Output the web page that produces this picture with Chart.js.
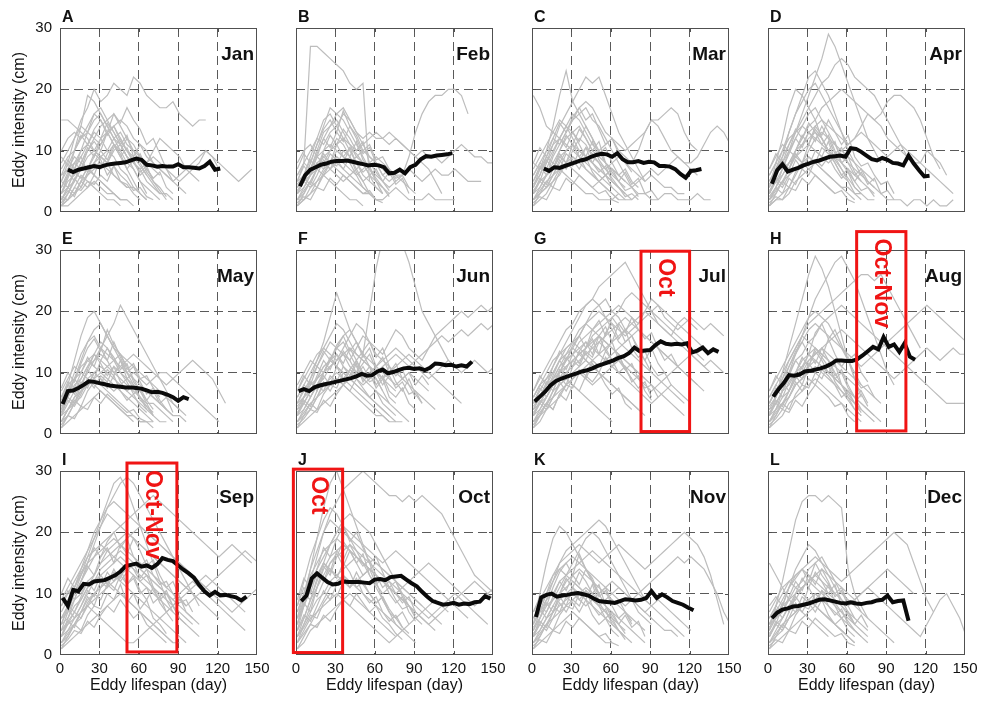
<!DOCTYPE html>
<html>
<head>
<meta charset="utf-8">
<script src="https://cdn.jsdelivr.net/npm/chart.js@4"></script>
<style>
body { margin: 0; background: #fff; overflow: hidden; }
#wrap { position: relative; width: 982px; height: 704px; }
canvas { position: absolute; }
</style>
</head>
<body>
<div id="wrap"></div>
<script>
const months = ["Jan", "Feb", "Mar", "Apr", "May", "Jun", "Jul", "Aug", "Sep", "Oct", "Nov", "Dec"];
const letters = ["A", "B", "C", "D", "E", "F", "G", "H", "I", "J", "K", "L"];
const xTicks = [0, 30, 60, 90, 120, 150];
const yTicks = [0, 10, 20, 30];

// monthly mean intensity, one value every 4 days from meanStart
const meanStart = [6, 3, 9, 3, 2, 2, 2, 4, 2, 4, 3, 3];
const janMean = [6.9, 6.5, 6.9, 7.1, 7.3, 7.5, 7.3, 7.6, 7.8, 7.9, 8.0, 8.1, 8.4, 8.7, 8.5, 7.7, 7.6, 7.4, 7.5, 7.4, 7.4, 7.8, 7.3, 7.3, 7.2, 7.1, 7.5, 8.2, 6.9, 7.1];
const febMean = [4.2, 6.0, 6.9, 7.3, 7.7, 7.9, 8.2, 8.3, 8.3, 8.4, 8.2, 8.0, 7.8, 7.6, 7.7, 7.6, 7.3, 6.3, 6.4, 6.9, 6.3, 7.3, 7.7, 8.6, 9.1, 9.0, 9.2, 9.3, 9.4, 9.6];
const marMean = [7.1, 6.7, 7.3, 7.2, 7.5, 7.8, 8.1, 8.4, 8.6, 9.0, 9.3, 9.5, 9.4, 9.0, 9.6, 8.6, 8.1, 8.1, 8.3, 8.0, 8.2, 8.1, 7.5, 7.5, 7.4, 7.0, 6.2, 5.6, 6.7, 6.8, 7.0];
const aprMean = [4.6, 6.8, 7.8, 6.6, 6.9, 7.2, 7.6, 7.9, 8.2, 8.4, 8.7, 9.0, 9.1, 9.2, 9.0, 10.4, 10.3, 9.8, 9.2, 8.6, 8.4, 8.8, 8.5, 8.0, 7.9, 7.6, 9.2, 7.9, 6.8, 5.8, 5.9];
const mayMean = [4.9, 7.0, 7.1, 7.5, 8.0, 8.6, 8.5, 8.3, 8.1, 7.9, 7.8, 7.7, 7.6, 7.6, 7.5, 7.4, 7.1, 6.8, 6.9, 6.7, 6.4, 6.0, 5.4, 6.0, 5.7];
const junMean = [7.0, 7.3, 7.0, 7.6, 7.9, 8.1, 8.3, 8.5, 8.7, 8.9, 9.1, 9.4, 9.8, 9.5, 9.6, 10.2, 10.5, 9.9, 10.1, 10.4, 10.7, 10.8, 10.6, 10.7, 10.4, 10.8, 11.5, 11.4, 11.2, 11.3, 11.0, 11.2, 11.0, 11.8];
const julMean = [5.3, 6.1, 6.9, 7.9, 8.6, 9.0, 9.3, 9.6, 9.9, 10.2, 10.4, 10.7, 11.1, 11.4, 11.7, 12.0, 12.4, 12.7, 13.2, 14.1, 13.5, 13.6, 13.7, 14.5, 15.1, 14.7, 14.6, 14.7, 14.6, 14.8, 13.3, 13.6, 14.1, 13.2, 13.8, 13.4];
const augMean = [6.1, 7.3, 8.3, 9.6, 9.5, 9.7, 10.2, 10.3, 10.5, 10.7, 11.0, 11.4, 12.0, 12.0, 11.9, 11.9, 12.2, 12.8, 13.5, 14.2, 13.8, 15.8, 14.2, 14.6, 13.4, 14.8, 12.6, 12.1];
const sepMean = [9.3, 8.0, 10.6, 10.4, 11.6, 11.5, 12.0, 12.1, 12.2, 12.6, 13.0, 13.6, 14.5, 14.7, 14.9, 14.4, 14.6, 14.2, 14.8, 15.8, 15.5, 15.3, 14.6, 13.9, 13.3, 12.6, 11.4, 10.4, 9.7, 10.3, 9.7, 9.8, 9.6, 9.4, 8.9, 9.5];
const octMean = [8.8, 9.7, 12.5, 13.3, 12.6, 11.9, 11.5, 11.6, 12.0, 11.9, 11.9, 11.9, 11.8, 11.7, 12.3, 12.4, 12.2, 12.7, 12.8, 12.9, 12.3, 11.7, 11.2, 10.3, 9.5, 8.8, 8.5, 8.2, 8.3, 8.5, 8.2, 8.4, 8.3, 8.6, 8.7, 9.6, 9.2];
const novMean = [6.2, 9.4, 9.8, 10.0, 9.5, 9.7, 9.8, 10.0, 10.1, 9.9, 9.7, 9.2, 8.8, 8.7, 8.6, 8.5, 8.8, 9.1, 9.0, 8.9, 9.0, 9.3, 10.4, 9.3, 9.9, 9.4, 8.8, 8.5, 8.2, 7.7, 7.3];
const decMean = [6.0, 6.9, 7.4, 7.6, 7.9, 8.0, 8.2, 8.4, 8.7, 9.0, 9.1, 8.9, 8.7, 8.5, 8.4, 8.6, 8.4, 8.3, 8.5, 8.6, 8.9, 9.0, 9.7, 8.6, 8.8, 8.9, 5.6];

// single eddies, one value every 5 days from day 1
const janLines = [
  [15, 15, 14, 13, 12, 10, 9, 8, 6, 5, 4],
  [3, 6, 10, 14, 19, 18, 16, 14, 12, 10, 8, 7, 5, 3],
  [2, 4, 7, 10, 13, 16, 17, 15, 13, 11, 9, 7, 5, 4, 3, 2],
  [5, 8, 12, 15, 17, 20, 18, 19, 21, 20, 19, 22, 21, 19, 18, 17, 17, 18, 16, 15, 14, 15, 15],
  [1, 3, 5, 8, 10, 12, 14, 15, 16, 14, 12, 10, 8, 6],
  [4, 6, 8, 9, 11, 10, 12, 13, 11, 9, 7, 5, 3, 2],
  [2, 2, 3, 5, 6, 8, 9, 10, 12, 11, 9, 8, 7, 5, 4, 3, 3, 2],
  [6, 7, 9, 8, 7, 6, 5, 4, 3, 2, 2],
  [3, 5, 6, 8, 7, 9, 11, 13, 14, 12, 10, 9, 11, 10, 8, 7, 6, 5, 4, 3],
  [1, 2, 4, 6, 5, 4, 3, 2, 2, 1],
  [8, 10, 12, 14, 13, 15, 16, 14, 12, 13, 11, 10, 9, 8, 10, 12, 11, 10, 9, 7, 6, 5],
  [2, 4, 5, 7, 9, 10, 9, 8, 10, 11, 9, 8, 7, 8, 9, 8, 7, 6, 5, 6, 7, 8, 10, 9, 8, 7, 6, 5, 6, 7],
  [5, 7, 8, 10, 11, 13, 12, 10, 9, 7, 6, 4, 3],
  [1, 2, 3, 4, 6, 7, 8, 7, 6, 5, 4, 4, 3, 2],
  [7, 9, 10, 12, 13, 12, 11, 13, 14, 15, 14, 12, 11, 9, 8, 7, 6, 5, 6, 7, 8, 9, 10, 9, 7],
  [3, 4, 3, 5, 4, 6, 5, 4, 3, 2],
  [10, 12, 13, 12, 14, 16, 15, 13, 11, 10, 12, 11, 9, 8, 7, 6],
  [1, 1, 2, 3, 4, 5, 4, 3, 3, 2, 2, 1],
  [4, 6.5, 5, 8, 10.5, 9, 12, 14.5, 13, 11, 12.5, 9, 7.5, 6, 4.5, 3],
  [2, 3.5, 2.5, 5, 7.5, 6, 9, 8, 10.5, 12, 10, 8.5, 9, 6.5, 5, 3.5, 2],
  [9, 7.5, 10, 12.5, 11, 13.5, 15, 12.5, 14, 11.5, 10, 8, 9.5, 7, 5.5],
  [1.5, 3, 5.5, 4, 6.5, 8, 7, 9.5, 11, 9, 10.5, 8, 6.5, 7.5, 5, 4, 2.5],
  [5, 4, 6.5, 5.5, 7, 9.5, 8.5, 6, 7.5, 5, 4.5, 3, 2],
  [3, 5.5, 8, 7, 10, 11.5, 10, 13, 16, 14.5, 17, 15, 13.5, 11, 12, 9.5, 7, 5],
  [6, 8.5, 7, 9, 6.5, 8, 10, 8.5, 11, 9.5, 7, 8.5, 6, 7, 5.5, 6.5, 4, 3],
  [2.5, 2, 4, 3.5, 5, 4.5, 6, 5, 7.5, 6, 5, 3.5, 4, 2.5, 2]
];
const febLines = [
  [5, 8, 27, 27, 26, 25, 24, 23, 21, 20, 21, 5],
  [3, 5, 8, 11, 14, 17, 16, 15, 13, 11, 9, 7, 5, 3],
  [2, 4, 6, 9, 12, 14, 15, 13, 11, 9, 8, 6, 5, 4],
  [1, 3, 5, 7, 9, 10, 12, 11, 9, 7, 5, 3, 2],
  [6, 8, 10, 12, 11, 13, 14, 16, 15, 13, 12, 13, 12, 12, 13, 12, 11, 10, 9, 8, 7, 5, 3],
  [2, 2, 3, 4, 6, 7, 8, 7, 6, 5, 4, 3, 2, 2],
  [4, 6, 7, 9, 10, 11, 10, 9, 8, 9, 10, 9, 8, 6, 5, 6, 5, 4, 3],
  [1, 2, 4, 5, 6, 5, 4, 3, 2, 2, 1],
  [3, 4, 6, 8, 9, 8, 7, 6, 5, 4, 3, 3, 2, 2, 3, 4, 3, 2, 2, 2, 3, 2, 2, 2, 2],
  [4, 5, 6, 7, 6, 8, 9, 8, 7, 6, 7, 8, 9, 8, 7, 6, 6, 9, 13, 16, 18, 19, 19, 20, 20, 19, 16],
  [8, 10, 11, 9, 8, 10, 11, 12, 11, 10, 11, 12, 13, 12, 11, 12, 11, 10, 9, 10, 9, 9, 8, 9, 10, 11, 10, 9, 9, 8, 8],
  [2, 3, 5, 7, 8, 7, 6, 5, 6, 7, 8, 7, 6, 5, 4, 5, 6, 7, 6, 5, 6, 7, 6, 6, 7, 6, 5, 5, 5],
  [5, 6, 9, 12, 15, 16, 14, 12, 10, 8, 6, 5, 4, 3],
  [1, 2, 3, 5, 7, 8, 10, 9, 8, 6, 4, 3, 2],
  [3, 5, 7, 10, 13, 14, 16, 17, 15, 13, 11, 9, 8, 7, 6],
  [3, 5.5, 4.5, 7, 9.5, 8, 11, 13.5, 12, 10, 11.5, 8, 6.5, 5, 3.5],
  [6, 8, 7, 9.5, 12, 10.5, 13, 11.5, 14, 12, 9.5, 10.5, 8, 6, 7, 5],
  [2, 3.5, 5, 4, 6.5, 8, 7.5, 10, 9, 11.5, 8.5, 7, 5.5, 4, 3],
  [4.5, 6, 8.5, 7, 10, 12.5, 11, 9, 10.5, 8, 6.5, 7.5, 5, 4, 2.5],
  [1.5, 2.5, 2, 4, 3.5, 5.5, 4.5, 6, 5, 4, 3, 3.5, 2, 1.5],
  [7, 9.5, 8, 11, 13.5, 15, 13, 16.5, 14, 12.5, 10, 11, 8.5, 9, 7, 5.5, 6, 4],
  [3.5, 5, 4, 6, 8.5, 7, 9, 8, 10.5, 9.5, 8, 6, 7, 5, 6.5, 4.5, 5.5, 3],
  [5, 7.5, 6, 8, 7, 9.5, 8.5, 7, 9, 6.5, 5, 6, 4, 3]
];
const marLines = [
  [19, 17, 14, 13, 12, 11, 10, 9, 8, 7, 6, 5, 4],
  [4, 7, 10, 14, 19, 23, 18, 16, 14, 12, 10, 8, 6, 5, 4],
  [3, 5, 8, 11, 14, 16, 18, 20, 22, 21, 22, 19, 16, 13, 11, 9, 7, 5],
  [2, 4, 6, 9, 11, 13, 15, 16, 17, 15, 14, 12, 10, 8, 6, 4, 3],
  [6, 8, 10, 12, 11, 13, 15, 17, 18, 17, 15, 13, 12, 11, 10, 11, 12, 13, 15, 14, 12, 10, 9, 8, 7, 6],
  [1, 2, 3, 5, 6, 8, 9, 8, 7, 6, 5, 4, 3, 2],
  [5, 7, 8, 10, 12, 14, 13, 11, 9, 8, 7, 6, 5, 4, 3, 2],
  [2, 3, 5, 6, 8, 10, 11, 10, 9, 8, 10, 11, 12, 10, 9, 8, 10, 13, 15, 15, 16, 17, 16, 13, 11, 10],
  [3, 4, 6, 7, 9, 8, 7, 6, 5, 4, 5, 6, 7, 6, 5, 4, 5, 6, 7, 6, 7, 8, 9, 8, 8, 9, 11, 13, 14, 13, 11],
  [7, 9, 11, 13, 15, 14, 12, 10, 9, 8, 7, 6, 5, 4, 3],
  [1, 3, 4, 5, 7, 6, 5, 4, 3, 3, 2, 2, 2, 3, 2, 2, 3, 3, 2, 2, 3, 3, 2, 2, 2, 3, 2, 2],
  [4, 6, 9, 11, 12, 14, 16, 15, 13, 11, 10, 8, 7, 6, 5],
  [2, 3, 4, 6, 7, 8, 10, 12, 11, 9, 8, 7, 8, 9, 8, 7, 6, 5, 6, 5, 4, 4, 3, 3],
  [8, 7, 9, 8, 10, 12, 13, 14, 12, 10, 9, 8, 7, 6, 5],
  [3, 5, 6, 7, 9, 10, 11, 9, 7, 6, 5, 4, 3, 2, 2],
  [3, 5.5, 4.5, 7, 9.5, 8, 11, 13.5, 12, 10, 11.5, 8, 6.5, 5, 3.5, 4, 2.5],
  [6, 8, 7, 9.5, 12, 10.5, 13, 11.5, 14, 12, 9.5, 10.5, 8, 6, 7, 5, 4],
  [2, 3.5, 5, 4, 6.5, 8, 7.5, 10, 9, 11.5, 8.5, 7, 5.5, 4, 3],
  [4.5, 6, 8.5, 7, 10, 12.5, 11, 9, 10.5, 8, 6.5, 7.5, 5, 4, 2.5, 3, 2],
  [1.5, 2.5, 2, 4, 3.5, 5.5, 4.5, 6, 5, 4, 3, 3.5, 2, 1.5],
  [8, 10.5, 9, 12, 14.5, 13, 15.5, 17, 15, 16, 13.5, 11, 12, 9.5, 8, 6.5],
  [3.5, 5, 4, 6, 8.5, 7, 9, 8, 10.5, 9.5, 8, 6, 7, 5, 6.5, 4.5, 5.5, 3, 3.5, 2],
  [5, 7.5, 6, 8, 7, 9.5, 8.5, 7, 9, 6.5, 5, 6, 4, 3]
];
const aprLines = [
  [4, 8, 12, 17, 20, 19, 17, 15, 12, 10, 8, 6, 5],
  [3, 6, 9, 13, 16, 19, 22, 23, 21, 19, 16, 13, 10, 8, 6],
  [2, 4, 7, 10, 13, 16, 19, 22, 25, 29, 27, 24, 21, 18, 15, 12, 10, 8],
  [5, 7, 9, 11, 13, 15, 17, 19, 21, 22, 24, 25, 24, 22, 21, 20, 19, 17, 15, 13, 11, 9, 8],
  [3, 5, 7, 8, 10, 12, 14, 15, 17, 18, 19, 20, 19, 18, 17, 16, 15, 16, 18, 19, 19, 18, 17, 15, 12, 9, 7],
  [1, 3, 5, 7, 9, 11, 12, 13, 12, 10, 9, 7, 5, 3, 2],
  [2, 4, 6, 8, 9, 10, 11, 10, 9, 8, 9, 10, 11, 12, 13, 12, 11, 10, 9, 10, 11, 10, 9, 8, 7, 6, 5, 4, 3],
  [6, 8, 10, 12, 13, 14, 13, 12, 11, 10, 9, 8, 7, 6, 5, 4, 3],
  [1, 2, 3, 4, 6, 8, 10, 12, 13, 12, 11, 9, 8, 7, 6, 5, 4, 3, 2, 2, 2, 1, 2, 2, 1, 2, 1, 1, 2],
  [4, 6, 8, 10, 12, 14, 16, 17, 15, 14, 13, 12, 11, 12, 14, 16, 15, 14, 12, 11, 10, 9, 8, 8, 10, 9, 8, 6],
  [2, 3, 5, 6, 7, 8, 9, 8, 7, 6, 5, 4, 3, 2],
  [7, 9, 11, 10, 9, 8, 7, 6, 5, 4, 3],
  [3, 5, 6, 8, 10, 11, 13, 14, 15, 13, 11, 10, 9, 8, 7, 6, 5],
  [1, 2, 2, 3, 5, 6, 7, 8, 7, 6, 5, 4, 4, 3, 3, 2, 2],
  [5, 7, 10, 13, 16, 18, 20, 21, 19, 17, 15, 13, 11],
  [3, 5.5, 4.5, 7, 9.5, 8, 11, 13.5, 12, 10, 11.5, 8, 6.5, 5, 3.5, 4, 2.5],
  [6, 8, 7, 9.5, 12, 10.5, 13, 11.5, 14, 12, 9.5, 10.5, 8, 6, 7, 5, 4],
  [2, 3.5, 5, 4, 6.5, 8, 7.5, 10, 9, 11.5, 8.5, 7, 5.5, 4, 3],
  [1.5, 2.5, 2, 4, 3.5, 5.5, 4.5, 6, 5, 4, 3, 3.5, 2, 1.5],
  [4.5, 6, 8.5, 7, 10, 12.5, 11, 14, 12.5, 15, 13, 11, 12.5, 9, 7.5, 8, 6, 4.5, 5, 3],
  [3.5, 5, 4, 6, 8.5, 7, 9, 8, 10.5, 9.5, 8, 6, 7, 5, 6.5, 4.5, 5.5, 3, 3.5, 2],
  [7, 9.5, 8, 11, 13.5, 12, 14.5, 13, 11, 12.5, 10, 8, 9, 6.5, 5],
  [2.5, 4, 3, 5.5, 4.5, 7, 6, 8.5, 7.5, 9, 7, 5.5, 6.5, 4, 3]
];
const mayLines = [
  [5, 8, 12, 16, 19, 20, 18, 16, 14, 12, 10, 8, 6, 4],
  [3, 6, 9, 12, 15, 17, 18, 16, 14, 13, 11, 9, 7, 5, 3],
  [2, 4, 6, 8, 10, 12, 14, 16, 18, 21, 19, 17, 15, 13, 11, 9, 7, 5, 4],
  [4, 7, 10, 13, 15, 16, 14, 13, 12, 11, 10, 9, 8, 7, 6, 5, 4, 3],
  [1, 3, 5, 7, 9, 10, 11, 10, 9, 8, 7, 6, 5, 4, 3, 2, 2],
  [6, 8, 9, 11, 12, 13, 12, 11, 10, 11, 12, 13, 12, 11, 10, 9, 8, 9, 10, 11, 12, 11, 10, 9, 7, 5],
  [2, 3, 5, 6, 8, 9, 8, 7, 6, 5, 4, 3, 2, 2, 1],
  [3, 5, 7, 9, 11, 12, 13, 12, 10, 9, 8, 7, 6, 5, 5, 4, 3, 2],
  [7, 9, 11, 10, 9, 8, 7, 6, 5, 4, 3, 2],
  [1, 2, 3, 4, 5, 6, 7, 6, 5, 4, 3, 3, 2, 2, 2],
  [4, 6, 8, 9, 11, 13, 15, 14, 12, 10, 9, 8, 7, 7, 6, 5, 4, 3, 3, 2],
  [2, 4, 5, 7, 8, 10, 9, 8, 7, 8, 9, 10, 9, 8, 9, 10, 10, 9, 8, 7, 6, 5, 4, 3, 2],
  [5, 7, 9, 10, 12, 11, 10, 9, 8, 7, 6, 5, 4, 3, 2],
  [3, 4, 6, 7, 8, 9, 10, 11, 12, 13, 12, 11, 10, 9, 8, 7, 6, 5, 4, 3],
  [3.5, 6, 5, 8, 10.5, 9, 12, 14, 12.5, 10.5, 11.5, 8.5, 7, 5.5, 4],
  [6, 8.5, 7.5, 10, 12.5, 11, 14, 12, 15, 12.5, 10, 11, 8.5, 6.5, 7.5, 5.5, 4],
  [2, 4, 5.5, 4.5, 7, 8.5, 8, 10.5, 9.5, 12, 9, 7.5, 6, 4.5, 3.5],
  [4.5, 6.5, 9, 7.5, 10.5, 13, 11.5, 9.5, 11, 8.5, 7, 8, 5.5, 4.5, 3],
  [1.5, 3, 2.5, 4.5, 4, 6, 5, 6.5, 5.5, 4.5, 3.5, 4, 2.5, 2],
  [7.5, 10, 8.5, 11.5, 14, 15.5, 13.5, 17, 14.5, 13, 10.5, 11.5, 9, 9.5, 7.5, 6],
  [3.5, 5.5, 4.5, 6.5, 9, 7.5, 9.5, 8.5, 11, 10, 8.5, 6.5, 7.5, 5.5, 7, 5, 6, 3.5],
  [5.5, 8, 6.5, 8.5, 7.5, 10, 9, 7.5, 9.5, 7, 5.5, 6.5, 4.5, 3.5]
];
const junLines = [
  [3, 6, 9, 12, 15, 19, 23, 20, 17, 15, 13, 11, 9, 7, 5],
  [4, 6, 7, 9, 10, 12, 11, 10, 9, 10, 13, 20, 27, 32, 32, 32, 31, 28, 24, 20, 18, 16, 14, 12],
  [5, 7, 9, 11, 13, 15, 14, 13, 12, 14, 16, 15, 14, 13, 15, 17, 16, 14, 13, 12, 14, 16, 17, 18, 19, 20, 19, 20, 21, 20, 21],
  [2, 4, 6, 8, 10, 12, 13, 11, 10, 9, 8, 9, 10, 11, 12, 13, 12, 11, 12, 13, 14, 15, 16, 15, 16, 17, 16, 17, 18, 17, 18],
  [3, 5, 7, 9, 11, 12, 11, 10, 9, 8, 7, 6, 5, 4, 3],
  [6, 8, 10, 12, 14, 16, 18, 17, 15, 13, 12, 11, 10, 9, 8, 7],
  [1, 3, 4, 6, 8, 9, 10, 9, 8, 7, 6, 5, 4, 3, 2],
  [4, 5, 7, 8, 10, 11, 12, 13, 14, 13, 12, 11, 10, 9, 10, 11, 12, 13, 12, 11, 10, 9, 8, 7, 6, 5],
  [2, 3, 5, 6, 7, 8, 9, 8, 7, 6, 5, 4, 3, 3, 2, 2, 2],
  [7, 9, 11, 13, 14, 13, 12, 14, 16, 18, 17, 15, 13, 12, 11, 10, 9, 8, 7, 6, 5, 4],
  [3, 4, 6, 8, 9, 11, 12, 13, 11, 10, 9, 10, 11, 12, 13, 14, 13, 12, 11, 10, 9, 10, 11, 12, 11, 10, 11, 12, 11, 10, 11],
  [5, 6, 8, 9, 11, 12, 14, 15, 13, 11, 9, 8, 7, 6, 5, 4, 3, 2],
  [1, 2, 3, 4, 5, 6, 7, 8, 9, 8, 7, 6, 5, 4, 3, 2],
  [8, 10, 12, 11, 10, 12, 14, 16, 17, 15, 13, 12, 11, 10, 9, 8, 9, 10, 9, 8, 7],
  [3, 5.5, 4.5, 7, 9.5, 8, 11, 13.5, 12, 10, 11.5, 13, 10.5, 9, 11, 8.5, 7, 9, 6.5, 5],
  [6, 8, 7, 9.5, 12, 10.5, 13, 11.5, 14, 12, 13.5, 15, 12.5, 14, 11, 9.5, 10.5, 8, 6],
  [2, 3.5, 5, 4, 6.5, 8, 7.5, 10, 9, 11.5, 8.5, 10, 7.5, 9, 6, 5],
  [4.5, 6, 8.5, 7, 10, 12.5, 11, 9, 10.5, 12, 9.5, 11, 8, 9.5, 7, 6, 7.5, 5, 4],
  [1.5, 2.5, 4, 3.5, 5.5, 4.5, 6.5, 8, 7, 9, 7.5, 6, 7, 5, 4, 3],
  [7, 9.5, 8, 11, 13.5, 12, 14.5, 16, 13.5, 15, 12.5, 14, 11, 12.5, 10, 11.5, 9, 10, 8, 9.5, 8],
  [3.5, 5, 4, 6, 8.5, 7, 9, 8, 10.5, 9.5, 11, 9, 10, 8, 9.5, 7.5, 8.5, 6.5, 7, 5],
  [5, 7.5, 6, 8, 7, 9.5, 8.5, 11, 9.5, 12, 10, 8.5, 9, 7]
];
const julLines = [
  [3, 5, 7, 9, 11, 13, 15, 16, 18, 17, 16, 15, 14, 13, 12, 11, 10, 9],
  [2, 4, 6, 8, 10, 12, 14, 16, 18, 20, 21, 22, 20, 19, 17, 16, 14, 12, 10],
  [5, 7, 9, 11, 13, 15, 17, 19, 21, 22, 24, 25, 26, 27, 28, 26, 24, 22, 20, 18, 17, 16, 18, 19, 18, 17],
  [4, 6, 8, 10, 12, 14, 15, 17, 18, 19, 20, 19, 18, 17, 16, 17, 18, 19, 20, 21, 19, 18, 17, 18, 19, 18, 17, 18, 17, 16],
  [1, 3, 5, 6, 8, 9, 10, 11, 12, 11, 10, 9, 8, 7, 6, 5, 4],
  [6, 8, 10, 12, 13, 14, 15, 14, 13, 12, 11, 12, 13, 14, 15, 16, 17, 16, 15, 14, 13, 12, 11, 10, 9, 8],
  [3, 4, 6, 8, 9, 10, 11, 12, 13, 14, 15, 16, 17, 18, 19, 18, 17, 16, 15, 14, 13, 12, 11, 12, 13, 12, 11, 12, 11, 10],
  [2, 3, 5, 7, 8, 9, 8, 7, 6, 5, 4, 3, 2],
  [4, 5, 7, 9, 10, 11, 12, 13, 14, 15, 16, 15, 14, 13, 12, 11, 10, 9, 8, 7, 6, 5, 4, 3],
  [7, 9, 11, 13, 15, 17, 18, 20, 21, 22, 21, 19, 17, 15, 14, 13, 12, 11, 10, 9, 8, 7, 6, 5],
  [1, 2, 4, 5, 6, 8, 9, 10, 11, 12, 13, 14, 15, 16, 17, 18, 19, 20, 19, 18, 17, 16, 15, 14, 13, 12, 11, 10],
  [5, 6, 8, 9, 11, 12, 13, 14, 15, 14, 13, 12, 11, 10, 9, 8, 7, 6, 5, 6, 7, 8, 7, 6, 5],
  [3, 5, 6, 8, 9, 11, 12, 13, 14, 16, 17, 18, 19, 20, 22, 23, 22, 21, 20, 19, 18, 17, 16, 15, 14, 13, 12],
  [2, 3, 4, 6, 7, 8, 9, 10, 9, 8, 9, 10, 11, 12, 11, 10, 9, 8, 7, 8, 9, 10, 11, 10, 9, 8, 7],
  [6, 8, 9, 10, 12, 13, 14, 13, 12, 11, 10, 9, 8, 7, 6, 5, 4, 3],
  [4, 6, 7, 9, 10, 12, 13, 15, 16, 17, 18, 19, 20, 21, 20, 19, 18, 20, 22, 21, 20, 19, 18, 17, 16, 15, 14],
  [3, 5.5, 4.5, 7, 9.5, 8, 11, 13.5, 12, 14.5, 16, 13.5, 15, 12, 10.5, 11.5, 9, 7.5, 8, 6],
  [6, 8, 7, 9.5, 12, 10.5, 13, 11.5, 14, 15.5, 13, 16.5, 18, 15.5, 17, 14, 12.5, 13.5, 11, 9.5, 10, 8],
  [2, 3.5, 5, 4, 6.5, 8, 7.5, 10, 9, 11.5, 10, 12.5, 11, 13, 10.5, 9, 7.5, 8.5, 6],
  [4.5, 6, 8.5, 7, 10, 12.5, 11, 13.5, 15, 13, 16, 17.5, 15, 18, 16.5, 19, 17, 15.5, 16.5, 14, 12, 13, 11],
  [1.5, 3, 5, 4, 6.5, 5.5, 8, 7, 9.5, 8.5, 10, 8, 6.5, 7.5, 5, 4],
  [7, 9.5, 8, 11, 13.5, 12, 14.5, 16, 14, 17, 18.5, 16, 19, 17.5, 15, 16, 13.5, 12, 14, 11.5, 10],
  [3.5, 5, 4, 6, 8.5, 7, 9, 10.5, 9.5, 12, 11, 13.5, 12, 10, 11, 8.5, 9.5, 7, 5.5],
  [5, 7.5, 6, 8, 10.5, 9.5, 12, 11, 13.5, 12.5, 15, 14, 12, 13, 10.5, 9]
];
const augLines = [
  [3, 6, 10, 14, 18, 22, 26, 29, 27, 24, 20, 16, 12, 9, 6],
  [2, 4, 7, 10, 13, 16, 19, 22, 24, 26, 28, 29, 27, 25, 22, 19, 16, 13, 10, 8],
  [4, 6, 9, 12, 14, 16, 18, 19, 20, 21, 22, 23, 24, 25, 26, 26, 25, 26, 24, 22, 20, 18, 16, 14],
  [5, 7, 9, 11, 13, 15, 17, 18, 17, 16, 15, 14, 13, 12, 11, 12, 13, 14, 15, 16, 17, 18, 19, 20, 21, 20, 19, 18, 17, 16, 15],
  [1, 3, 5, 7, 9, 11, 13, 14, 13, 12, 10, 8, 6, 4, 3],
  [3, 5, 7, 9, 10, 12, 13, 12, 11, 10, 9, 8, 7, 6, 5, 4, 3],
  [6, 8, 10, 12, 14, 16, 15, 14, 13, 12, 11, 10, 9, 8, 7],
  [2, 3, 5, 6, 8, 9, 10, 11, 10, 9, 8, 7, 6, 5, 4, 3, 2],
  [4, 5, 7, 8, 10, 11, 12, 13, 14, 15, 16, 17, 16, 15, 14, 13, 12, 11, 10, 9, 10, 11, 12, 13, 14, 13, 12, 13, 14, 13, 13],
  [1, 2, 3, 5, 6, 7, 8, 9, 8, 7, 6, 5, 4, 3, 2],
  [5, 7, 8, 10, 12, 13, 15, 16, 18, 19, 20, 21, 20, 19, 18, 17, 16, 15, 14, 13, 12, 11, 10, 9, 8, 7, 6, 5, 5, 5, 5],
  [3, 4, 6, 7, 9, 10, 12, 13, 14, 13, 12, 11, 10, 9, 8, 7, 6, 5],
  [7, 9, 11, 13, 15, 17, 19, 20, 19, 18, 16, 14, 12, 10, 8],
  [2, 4, 5, 6, 8, 9, 11, 12, 11, 10, 9, 8, 7, 6, 5, 4, 3, 2],
  [3, 5.5, 4.5, 7, 9.5, 8, 11, 13.5, 12, 10, 11.5, 8, 6.5, 5, 3.5],
  [6, 8, 7, 9.5, 12, 10.5, 13, 11.5, 14, 12, 9.5, 10.5, 8, 6, 7, 5],
  [2, 3.5, 5, 4, 6.5, 8, 7.5, 10, 9, 11.5, 8.5, 7, 5.5, 4, 3],
  [4.5, 6, 8.5, 7, 10, 12.5, 11, 14, 12.5, 15.5, 13, 11, 12.5, 9, 7.5, 8, 6],
  [1.5, 2.5, 4, 3.5, 5.5, 4.5, 6.5, 8, 7, 6, 4.5, 5, 3, 2],
  [7, 9.5, 8, 11, 13.5, 15, 13, 16.5, 18, 15.5, 17, 14.5, 12, 13, 10, 8.5],
  [3.5, 5, 4, 6, 8.5, 7, 9, 8, 10.5, 9.5, 8, 6, 7, 5, 6.5, 4.5],
  [5, 7.5, 6, 8.5, 10, 9, 11.5, 10, 12.5, 11, 9, 10, 7.5, 6, 4]
];
const sepLines = [
  [4, 7, 10, 13, 16, 19, 22, 25, 28, 29, 27, 24, 21, 18, 15, 12, 9, 7],
  [3, 6, 9, 12, 15, 18, 21, 24, 26, 28, 29, 28, 26, 24, 22, 20, 18, 16, 14, 12, 10, 8],
  [5, 8, 11, 14, 17, 20, 22, 24, 25, 24, 23, 22, 21, 20, 19, 18, 17, 16, 15, 14, 13, 12, 11, 10],
  [6, 8, 10, 12, 14, 16, 18, 19, 20, 21, 22, 23, 24, 25, 26, 25, 24, 23, 22, 21, 20, 19, 18, 17, 16, 17, 18, 17, 16, 15],
  [2, 4, 6, 8, 10, 12, 14, 15, 16, 17, 16, 15, 14, 13, 12, 11, 10, 9, 8, 7, 6, 5],
  [7, 9, 11, 13, 15, 16, 17, 18, 19, 18, 17, 16, 15, 14, 13, 12, 11, 10, 9, 8, 9, 10, 11, 12, 13, 14, 15, 16, 17, 16, 15],
  [1, 3, 5, 7, 9, 10, 11, 12, 13, 12, 11, 10, 9, 8, 7, 6, 5, 4, 3, 2],
  [3, 5, 7, 9, 11, 13, 15, 17, 18, 19, 20, 19, 18, 17, 16, 15, 14, 13, 12, 11, 10, 9, 8, 7, 6],
  [8, 10, 12, 14, 16, 17, 18, 17, 16, 15, 14, 13, 12, 11, 10, 9, 8, 7, 6, 5, 4, 3],
  [2, 3, 5, 6, 8, 9, 10, 11, 12, 13, 14, 15, 14, 13, 12, 11, 10, 9, 10, 11, 12, 11, 10, 9, 8, 7, 6, 5, 4],
  [5, 6, 8, 9, 11, 12, 13, 14, 15, 16, 15, 14, 13, 12, 11, 10, 9, 8, 7, 6, 5],
  [4, 5, 6, 7, 8, 7, 6, 5, 4, 3, 2, 2, 3, 4, 5, 6, 7, 8, 9, 10, 11, 12, 13, 12, 11, 10, 9, 8, 7],
  [9, 11, 13, 15, 17, 19, 21, 23, 22, 21, 20, 19, 18, 17, 16, 15, 14, 13, 12, 11, 10, 9],
  [1, 2, 3, 4, 5, 6, 7, 8, 9, 10, 9, 8, 7, 6, 5, 4, 3, 2, 2],
  [6, 7, 9, 10, 12, 13, 15, 16, 17, 18, 19, 20, 21, 20, 19, 18, 17, 16, 15, 14, 13, 12, 11, 10, 9, 8, 7, 8, 9, 10, 11],
  [3, 4, 5, 7, 8, 10, 11, 12, 11, 10, 9, 8, 7, 6, 5, 4, 3, 2],
  [3, 5.5, 4.5, 7, 9.5, 8, 11, 13.5, 12, 14, 11.5, 13, 10.5, 9, 11, 8.5, 7, 5.5],
  [6, 8, 7, 9.5, 12, 10.5, 13, 11.5, 14, 12, 13.5, 15, 12.5, 14, 11, 9.5, 10.5, 8, 6],
  [2, 3.5, 5, 4, 6.5, 8, 7.5, 10, 9, 11.5, 8.5, 10, 7.5, 9, 6, 5, 3.5],
  [8, 10.5, 9, 12, 14.5, 13, 16, 17.5, 15, 18, 16.5, 19, 17, 14.5, 15.5, 13, 11, 12, 9.5, 8],
  [1.5, 2.5, 4, 3.5, 5.5, 4.5, 6.5, 8, 7, 9, 7.5, 6, 7, 5, 4, 3, 2],
  [10, 12.5, 11, 13.5, 15, 17.5, 16, 18.5, 20, 17.5, 19, 16, 14.5, 15.5, 13, 11.5, 12, 10, 8.5, 9, 7],
  [4, 5.5, 7, 6, 8.5, 10, 9, 11.5, 10.5, 13, 11.5, 12.5, 10, 11, 8.5, 9.5, 7, 8, 6, 5],
  [5, 7.5, 6, 8, 10.5, 9.5, 12, 11, 13.5, 12.5, 15, 14, 12, 13, 10.5, 9, 10, 8, 9.5, 7, 6]
];
const octLines = [
  [5, 9, 14, 19, 24, 28, 30, 27, 24, 21, 18, 15, 12, 9, 7],
  [4, 8, 12, 16, 20, 23, 25, 27, 28, 29, 30, 29, 28, 27, 26, 26, 25, 26, 25, 26, 25, 24, 23, 21, 19, 17, 15, 13, 12, 11, 10],
  [6, 10, 14, 17, 20, 22, 21, 20, 19, 18, 17, 16, 15, 14, 13, 12, 11, 10, 9, 8],
  [3, 6, 9, 12, 15, 18, 20, 22, 23, 22, 21, 20, 18, 16, 14, 12, 10, 8, 6, 5],
  [2, 5, 8, 11, 14, 16, 17, 18, 17, 16, 15, 14, 13, 12, 11, 10, 11, 12, 13, 14, 15, 14, 13, 12, 11, 10, 9, 8, 9, 10, 11],
  [7, 10, 13, 15, 17, 18, 19, 18, 17, 16, 15, 14, 13, 12, 11, 10, 9, 8, 7, 6, 5, 4],
  [1, 3, 5, 7, 9, 11, 12, 13, 12, 11, 10, 9, 8, 7, 6, 5, 4, 3, 2],
  [4, 6, 9, 11, 13, 15, 16, 17, 18, 17, 16, 15, 14, 13, 12, 11, 10, 9, 8, 7, 6, 7, 8, 9, 10, 9, 8, 7, 6, 5],
  [3, 5, 7, 9, 10, 12, 13, 14, 15, 16, 15, 14, 13, 12, 11, 10, 9, 8, 7, 6, 5, 6, 7, 8, 9, 10, 11, 12, 11, 10, 9],
  [8, 12, 16, 19, 22, 24, 23, 21, 19, 17, 15, 13, 11, 9, 7, 5, 4],
  [2, 4, 6, 7, 8, 9, 10, 9, 8, 7, 6, 5, 4, 3, 2, 3, 4, 5, 6, 7, 8, 9, 8, 7],
  [5, 8, 11, 13, 15, 14, 13, 12, 11, 12, 13, 14, 15, 14, 13, 12, 11, 10, 9, 8, 7, 6, 5],
  [1, 2, 4, 5, 6, 7, 8, 9, 10, 9, 8, 7, 6, 5, 4, 3],
  [6, 9, 12, 14, 16, 18, 20, 21, 20, 19, 18, 17, 16, 15, 16, 17, 16, 15, 14, 13, 12, 11, 10, 9, 8, 7, 6],
  [5, 8.5, 7, 11, 14.5, 13, 16, 18.5, 17, 15, 16.5, 13, 11.5, 12.5, 10, 8.5, 9.5, 7, 5.5],
  [7, 10, 9, 12.5, 15, 13.5, 17, 15.5, 18, 16, 14.5, 15.5, 13, 11, 12, 10, 8.5, 9.5, 7],
  [3, 4.5, 6.5, 6, 8.5, 10, 9.5, 12, 11, 13.5, 11.5, 10, 8.5, 9.5, 7, 6, 4.5],
  [9, 12.5, 11, 14, 17.5, 16, 19, 21, 18.5, 20, 17.5, 15, 16, 13.5, 11, 12, 9.5, 8],
  [2, 3.5, 5, 4.5, 6.5, 5.5, 7.5, 9, 8, 10, 8.5, 7, 8, 6, 5, 3.5, 2.5],
  [6, 8, 10.5, 9.5, 12, 14, 12.5, 15, 13.5, 11, 12, 10, 8.5, 9.5, 7.5, 6, 7, 5],
  [4, 6.5, 5.5, 8, 10.5, 9, 11.5, 13, 11, 12.5, 10, 8.5, 9.5, 7, 5.5, 6.5, 4.5, 3.5],
  [8, 11, 10, 13.5, 12, 15, 16.5, 14.5, 17, 15, 13, 14, 11.5, 10, 11, 9, 7.5, 8, 6.5]
];
const novLines = [
  [5, 10, 15, 19, 21, 20, 18, 16, 14, 12, 10, 8, 6, 4],
  [3, 6, 9, 12, 15, 17, 18, 19, 20, 21, 22, 21, 19, 17, 15, 13, 11, 9, 8],
  [4, 7, 10, 13, 15, 16, 17, 18, 17, 16, 15, 16, 17, 18, 17, 16, 15, 14, 15, 16, 17, 18, 19, 20, 19, 18, 16, 13, 9, 5],
  [2, 4, 6, 8, 10, 12, 13, 14, 13, 12, 11, 10, 9, 8, 7, 6, 5, 4],
  [6, 8, 10, 12, 14, 15, 16, 15, 14, 13, 12, 11, 10, 9, 8, 9, 10, 11, 12, 13, 14, 15, 16, 15, 16, 15, 14, 12, 10, 7, 5],
  [1, 3, 5, 7, 9, 10, 11, 10, 9, 8, 7, 6, 5, 4, 3, 2],
  [3, 5, 7, 9, 11, 13, 14, 15, 16, 17, 16, 15, 14, 13, 12, 11, 10, 9, 8, 7, 6, 5, 4, 3],
  [7, 9, 11, 13, 14, 13, 12, 11, 10, 9, 8, 7, 6, 5, 4],
  [2, 3, 5, 6, 7, 8, 9, 10, 11, 10, 9, 8, 7, 6, 5, 4, 3, 2],
  [4, 6, 8, 9, 10, 11, 12, 11, 10, 9, 8, 9, 10, 11, 10, 9, 8, 7, 6, 5, 4, 4, 3],
  [1, 2, 3, 4, 5, 6, 7, 6, 5, 4, 3, 2, 2],
  [5, 7, 9, 10, 12, 13, 15, 17, 19, 20, 19, 17, 15, 13, 11, 9, 7, 6, 5],
  [3, 4, 6, 7, 8, 9, 10, 9, 8, 9, 10, 11, 12, 11, 10, 9, 8, 7, 8, 9, 8, 7, 6, 5, 4],
  [3, 5.5, 4.5, 7, 9.5, 8, 11, 13.5, 12, 10, 11.5, 8, 6.5, 5, 3.5],
  [6, 8, 7, 9.5, 12, 10.5, 13, 11.5, 14, 12, 9.5, 10.5, 8, 6, 7, 5],
  [2, 3.5, 5, 4, 6.5, 8, 7.5, 10, 9, 11.5, 8.5, 7, 5.5, 4, 3],
  [4.5, 6, 8.5, 7, 10, 12.5, 11, 9, 10.5, 8, 6.5, 7.5, 5, 4, 2.5],
  [1.5, 2.5, 2, 4, 3.5, 5.5, 4.5, 6, 5, 4, 3, 3.5, 2, 1.5],
  [7, 9.5, 8, 11, 13.5, 15, 13, 16.5, 14, 12.5, 10, 11, 8.5, 9, 7, 5.5],
  [3.5, 5, 4, 6, 8.5, 7, 9, 8, 10.5, 9.5, 8, 6, 7, 5, 6.5, 4.5, 5.5, 3],
  [5, 7.5, 6, 8, 7, 9.5, 8.5, 7, 9, 6.5, 5, 6, 4, 3]
];
const decLines = [
  [4, 8, 12, 17, 22, 25, 26, 26, 25, 26, 25, 24, 14, 10, 8, 6],
  [15, 13, 11, 9, 8, 7, 6, 5, 4, 3],
  [3, 5, 8, 11, 14, 16, 18, 17, 15, 13, 11, 9, 7, 5],
  [5, 7, 9, 11, 13, 14, 15, 16, 15, 14, 13, 12, 13, 14, 15, 16, 17, 18, 19, 20, 19, 18, 15, 12, 9, 7],
  [2, 4, 6, 8, 10, 11, 12, 11, 10, 9, 8, 7, 6, 5, 4, 3],
  [6, 8, 10, 12, 13, 14, 13, 12, 11, 10, 9, 8, 7, 6, 5, 4],
  [1, 3, 4, 6, 7, 8, 9, 10, 9, 8, 7, 6, 5, 4, 3, 2],
  [3, 5, 6, 8, 9, 11, 12, 13, 14, 13, 12, 11, 10, 9, 10, 11, 10, 9, 8, 7, 6, 5, 4, 3, 5, 7, 9, 10, 8, 6, 3],
  [7, 9, 11, 12, 11, 10, 9, 8, 7, 6, 5, 4, 3],
  [2, 3, 5, 6, 7, 8, 9, 8, 7, 6, 5, 4, 3, 2],
  [4, 6, 7, 9, 11, 12, 14, 15, 16, 14, 12, 10, 9, 8, 7, 6, 5, 4, 3, 2],
  [1, 2, 3, 4, 5, 6, 7, 8, 7, 6, 5, 4, 3, 2],
  [5, 6, 8, 9, 10, 11, 12, 13, 12, 11, 10, 9, 8, 9, 10, 11, 12, 13, 14, 13, 12, 11, 10],
  [3, 5.5, 4.5, 7, 9.5, 8, 11, 13.5, 12, 10, 11.5, 8, 6.5, 5],
  [6, 8, 7, 9.5, 12, 10.5, 13, 11.5, 14, 12, 9.5, 10.5, 8, 6],
  [2, 3.5, 5, 4, 6.5, 8, 7.5, 10, 9, 11.5, 8.5, 7, 5.5, 4, 3],
  [4.5, 6, 8.5, 7, 10, 12.5, 11, 9, 10.5, 8, 6.5, 7.5, 5, 4],
  [1.5, 2.5, 2, 4, 3.5, 5.5, 4.5, 6, 5, 4, 3, 3.5, 2, 1.5],
  [8, 9.5, 8, 11, 12.5, 14, 12, 15, 13, 11.5, 10, 11, 8.5, 9, 7],
  [3.5, 5, 4, 6, 8.5, 7, 9, 8, 10.5, 9.5, 8, 6, 7, 5, 6.5, 4.5],
  [5, 7.5, 6, 8, 7, 9.5, 8.5, 7, 9, 6.5, 5, 6, 4, 3]
];

// red highlight boxes (panel index, day range, intensity range)
const boxPanel = [6, 7, 8, 9];
const boxFrom = [83, 67.5, 51, -2];
const boxTo = [120, 105, 89, 35.5];
const boxTop = [29.8, 33, 31.3, 30.3];
const boxBottom = [0.4, 0.5, 0.5, 0.4];
const boxLabel = ["Oct", "Oct-Nov", "Oct-Nov", "Oct"];

const means = [janMean, febMean, marMean, aprMean, mayMean, junMean, julMean, augMean, sepMean, octMean, novMean, decMean];
const lines = [janLines, febLines, marLines, aprLines, mayLines, junLines, julLines, augLines, sepLines, octLines, novLines, decLines];

const colLeft = [60, 296, 532, 768];
const rowTop = [28, 250, 471];
const plotW = 197, plotH = 184;
const padL = 60, padT = 28, padR = 20, padB = 50;
const FONT = '"Liberation Sans", Arial, Helvetica, sans-serif';

Chart.defaults.font.family = FONT;
Chart.defaults.color = "#1a1a1a";

const panelDeco = {
  id: "panelDeco",
  afterDraw(chart, args, opts) {
    const { ctx, chartArea: a, scales: { x, y } } = chart;
    const i = opts.panel;
    ctx.save();
    // axes box
    ctx.strokeStyle = "#505050";
    ctx.lineWidth = 1;
    ctx.strokeRect(a.left + 0.5, a.top + 0.5, a.width - 1, a.height - 1);
    // inward tick marks
    ctx.beginPath();
    xTicks.slice(1, -1).forEach(v => {
      const px = Math.round(x.getPixelForValue(v)) + 0.5;
      ctx.moveTo(px, a.bottom); ctx.lineTo(px, a.bottom - 4);
      ctx.moveTo(px, a.top); ctx.lineTo(px, a.top + 4);
    });
    yTicks.slice(1, -1).forEach(v => {
      const py = Math.round(y.getPixelForValue(v)) + 0.5;
      ctx.moveTo(a.left, py); ctx.lineTo(a.left + 4, py);
      ctx.moveTo(a.right, py); ctx.lineTo(a.right - 4, py);
    });
    ctx.stroke();
    // panel letter and month
    ctx.fillStyle = "#111";
    ctx.font = "bold 16px " + FONT;
    ctx.textAlign = "left";
    ctx.textBaseline = "alphabetic";
    ctx.fillText(letters[i], a.left + 2, a.top - 6);
    ctx.font = "bold 19px " + FONT;
    ctx.textAlign = "right";
    ctx.textBaseline = "middle";
    ctx.fillText(months[i], a.right - 3, a.top + 27);
    // red box
    const b = boxPanel.indexOf(i);
    if (b >= 0) {
      const x0 = x.getPixelForValue(boxFrom[b]);
      const x1 = x.getPixelForValue(boxTo[b]);
      const y0 = y.getPixelForValue(boxTop[b]);
      const y1 = y.getPixelForValue(boxBottom[b]);
      ctx.strokeStyle = "#f01414";
      ctx.lineWidth = 3;
      ctx.strokeRect(x0, y0, x1 - x0, y1 - y0);
      ctx.translate((x0 + x1) / 2, y0 + 7);
      ctx.rotate(Math.PI / 2);
      ctx.fillStyle = "#f01414";
      ctx.font = "bold 23px " + FONT;
      ctx.textAlign = "left";
      ctx.textBaseline = "middle";
      ctx.fillText(boxLabel[b], 0, 0);
    }
    ctx.restore();
  }
};

const gridColor = c => (c.tick && (c.tick.value === c.scale.min || c.tick.value === c.scale.max)) ? "rgba(0,0,0,0)" : "#5a5a5a";

const wrap = document.getElementById("wrap");
for (let i = 0; i < 12; i++) {
  const r = Math.floor(i / 4), c = i % 4;
  const cv = document.createElement("canvas");
  cv.width = padL + plotW + padR;
  cv.height = padT + plotH + padB;
  cv.style.left = (colLeft[c] - padL) + "px";
  cv.style.top = (rowTop[r] - padT) + "px";
  wrap.appendChild(cv);

  const datasets = [{
    data: means[i].map((v, k) => ({ x: meanStart[i] + 4 * k, y: v })),
    borderColor: "#0a0a0a",
    borderWidth: 4,
    order: 0
  }];
  lines[i].forEach(arr => {
    datasets.push({
      data: arr.map((v, k) => ({ x: 1 + 5 * k, y: v })),
      borderColor: "#bdbdbd",
      borderWidth: 1.2,
      order: 1
    });
  });

  new Chart(cv.getContext("2d"), {
    type: "line",
    data: { datasets },
    options: {
      responsive: false,
      animation: false,
      devicePixelRatio: 1,
      parsing: false,
      elements: { point: { radius: 0 }, line: { tension: 0 } },
      layout: { padding: { left: 0, top: padT, right: padR, bottom: 0 } },
      plugins: {
        legend: { display: false },
        tooltip: { enabled: false },
        panelDeco: { panel: i }
      },
      scales: {
        x: {
          type: "linear",
          min: 0,
          max: 150,
          afterBuildTicks: s => { s.ticks = xTicks.map(v => ({ value: v })); },
          afterFit: s => { s.height = padB; },
          ticks: { display: r === 2, font: { size: 15 }, padding: 5, maxRotation: 0, autoSkip: false, color: "#111" },
          grid: { color: gridColor, drawTicks: false, lineWidth: 1 },
          border: { display: false, dash: [9, 5] },
          title: { display: r === 2, text: "Eddy lifespan (day)", font: { size: 16 }, padding: { top: 0, bottom: 10 }, color: "#111" }
        },
        y: {
          type: "linear",
          min: 0,
          max: 30,
          afterBuildTicks: s => { s.ticks = yTicks.map(v => ({ value: v })); },
          afterFit: s => { s.width = padL; },
          ticks: { display: c === 0, font: { size: 15 }, padding: 8, color: "#111" },
          grid: { color: gridColor, drawTicks: false, lineWidth: 1 },
          border: { display: false, dash: [9, 5] },
          title: { display: c === 0, text: "Eddy intensity (cm)", font: { size: 16 }, padding: { top: 10, bottom: 0 }, color: "#111" }
        }
      }
    },
    plugins: [panelDeco]
  });
}
</script>
</body>
</html>
